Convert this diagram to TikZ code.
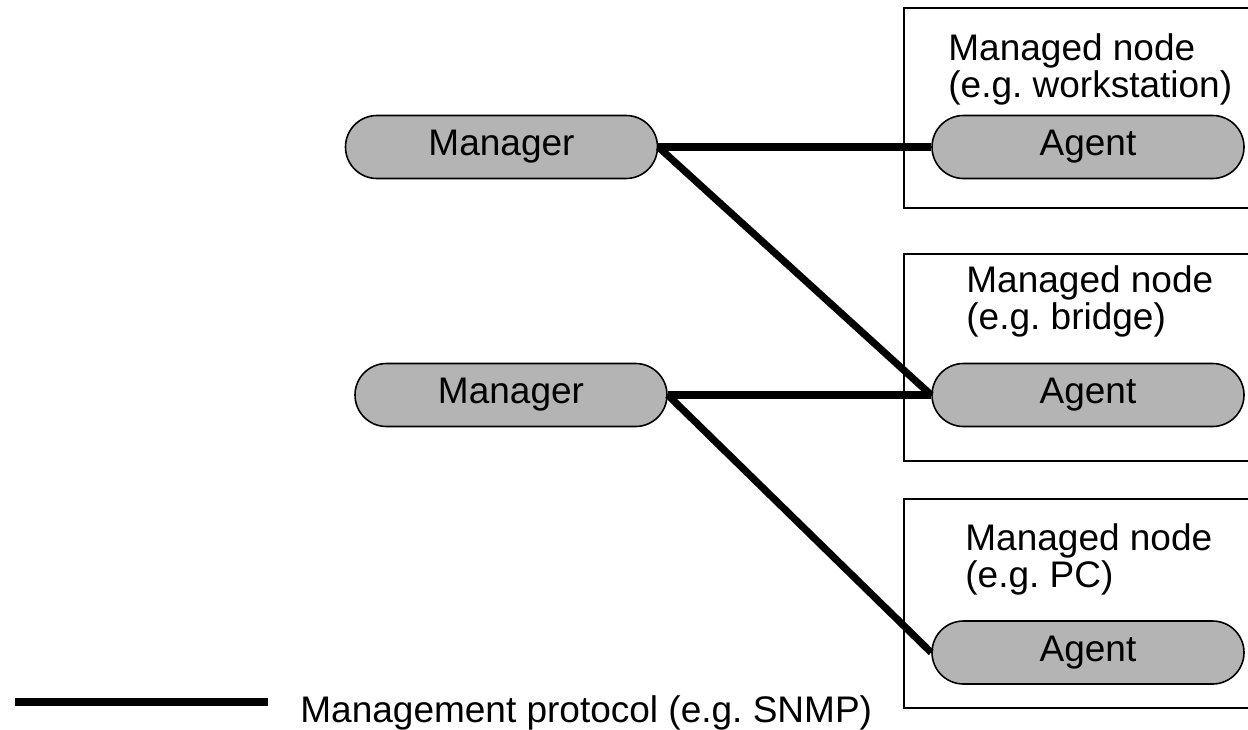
\documentclass[tikz,border=0pt]{standalone}
\usepackage{fontspec}
\setmainfont{Liberation Sans}
\usepackage{tikz}
\frenchspacing

\definecolor{pillgray}{RGB}{180,180,180}
\tikzset{
  pill/.style={draw,line width=0.8pt,fill=pillgray,rounded corners=15.75pt,
    minimum width=156pt,minimum height=31.5pt,inner sep=0pt},
  nodebox/.style={draw,line width=1pt,anchor=north west,minimum width=180pt,inner sep=0pt},
  boxtext/.style={anchor=north west,align=left,inner sep=0pt},
  protocol/.style={line width=3.6pt}
}

\begin{document}
\begin{tikzpicture}[x=0.5pt,y=-0.5pt,font=\fontsize{18.5}{18.5}\selectfont]
  \useasboundingbox (0,0) rectangle (1248,729);

  % managed nodes (boxes run off the right edge)
  \draw (903,7) node[nodebox,minimum height=100pt] (box1) {};
  \draw (903,253) node[nodebox,minimum height=103.5pt] (box2) {};
  \draw (903,498) node[nodebox,minimum height=104.5pt] (box3) {};
  \draw (948,33) node[boxtext] (text1) {Managed node\\(e.g. workstation)};
  \draw (966,265) node[boxtext] (text2) {Managed node\\(e.g. bridge)};
  \draw (965,523) node[boxtext] (text3) {Managed node\\(e.g. PC)};

  \draw (501.5,147) node[pill] (manager1) {Manager};
  \draw (511,395) node[pill] (manager2) {Manager};
  \draw (1088,147) node[pill] (agent1) {Agent};
  \draw (1088,395) node[pill] (agent2) {Agent};
  \draw (1088,652.5) node[pill] (agent3) {Agent};

  \path[protocol] (manager1.east) edge (agent1.west);
  \path[protocol] (manager1.east) edge (agent2.west);
  \path[protocol] (manager2.east) edge (agent2.west);
  \path[protocol] (manager2.east) edge (agent3.west);

  % legend
  \coordinate (legstart) at (15,702);
  \coordinate (legend) at (268,702);
  \path[protocol] (legstart) edge (legend);
  \draw (300,722) node[anchor=base west,inner sep=0pt] (legtext) {Management protocol (e.g. SNMP)};
\end{tikzpicture}
\end{document}
